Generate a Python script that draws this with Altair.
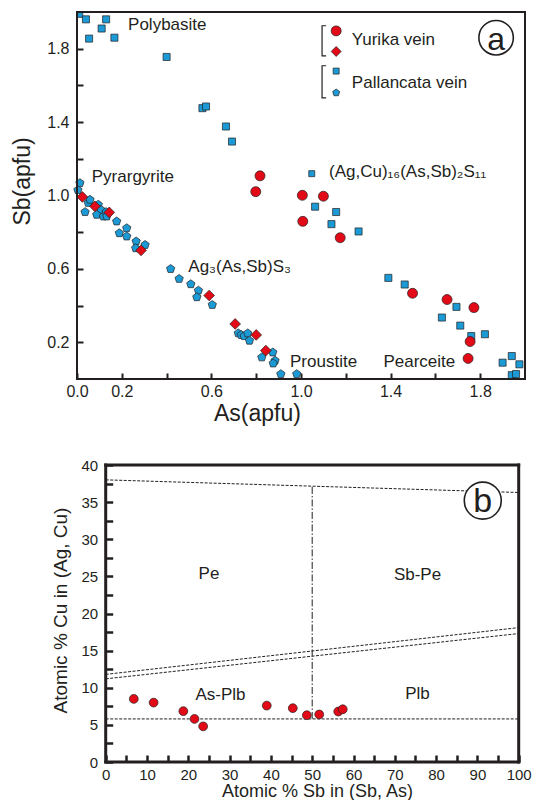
import altair as alt
import pandas as pd

# ---------------- panel (a) data : Sb vs As (apfu) ----------------
yurika_circle_x = [0.817, 0.798, 1.006, 1.100, 1.008, 1.175, 1.498, 1.652, 1.772, 1.755, 1.746]
yurika_circle_y = [1.107, 1.021, 1.001, 0.996, 0.859, 0.770, 0.467, 0.433, 0.389, 0.204, 0.112]
yurika_diamond_x = [0.024, 0.080, 0.144, 0.286, 0.590, 0.706, 0.800, 0.843]
yurika_diamond_y = [0.992, 0.941, 0.908, 0.701, 0.455, 0.300, 0.240, 0.155]
pallancata_square_x = [0.010, 0.040, 0.130, 0.110, 0.054, 0.167, 0.400, 0.560, 0.576, 0.665, 0.692,
                       1.063, 1.157, 1.136, 1.257, 1.390, 1.463, 1.694, 1.629, 1.711, 1.760, 1.821,
                       1.900, 1.941, 1.975, 1.941, 1.960]
pallancata_square_y = [1.990, 1.960, 1.960, 1.910, 1.855, 1.860, 1.755, 1.476, 1.485, 1.376, 1.294,
                       0.939, 0.910, 0.844, 0.804, 0.551, 0.515, 0.393, 0.335, 0.291, 0.234, 0.244,
                       0.089, 0.125, 0.080, 0.021, 0.027]
pallancata_pent_x = [0.013, 0.004, 0.036, 0.050, 0.058, 0.095, 0.107, 0.088, 0.118, 0.130, 0.133, 0.177,
                     0.189, 0.222, 0.222, 0.264, 0.262, 0.304, 0.418, 0.456, 0.508, 0.542, 0.535, 0.604,
                     0.720, 0.733, 0.746, 0.762, 0.770, 0.825, 0.874, 0.884, 0.876, 0.910, 0.981]
pallancata_pent_y = [1.068, 1.030, 0.910, 0.960, 0.977, 0.950, 0.922, 0.895, 0.886, 0.910, 0.886, 0.859,
                     0.795, 0.822, 0.777, 0.750, 0.713, 0.731, 0.600, 0.546, 0.517, 0.482, 0.446, 0.404,
                     0.249, 0.240, 0.234, 0.249, 0.209, 0.118, 0.145, 0.100, 0.085, 0.027, 0.027]

# axis tick positions (unlabelled ones get a blank label)
a_x_ticks = [0.0, 0.2, 0.4, 0.6, 0.8, 1.0, 1.2, 1.4, 1.6, 1.8]
a_y_ticks = [0.2, 0.4, 0.6, 0.8, 1.0, 1.2, 1.4, 1.6, 1.8]
a_unlabelled = [0.4, 0.8, 1.2, 1.6]

a_text = ["Polybasite", "Pyrargyrite", "Ag\u2083(As,Sb)S\u2083",
          "(Ag,Cu)\u2081\u2086(As,Sb)\u2082S\u2081\u2081", "Proustite", "Pearceite"]
a_text_x = [0.228, 0.066, 0.497, 1.125, 0.951, 1.368]
a_text_y = [1.927, 1.101, 0.613, 1.128, 0.094, 0.091]

legend_text = ["Yurika vein", "Pallancata vein"]
legend_text_x = [1.227, 1.227]
legend_text_y = [1.849, 1.612]

# ---------------- panel (b) data : atomic % ----------------
b_sb = [6.8, 11.6, 18.8, 21.5, 23.6, 39.0, 45.3, 48.7, 51.7, 56.3, 57.4]
b_cu = [8.5, 8.0, 6.85, 5.8, 4.8, 7.6, 7.25, 6.3, 6.4, 6.8, 7.1]

b_line_id = ["top", "top", "up1", "up1", "up2", "up2", "low", "low"]
b_line_x = [0, 100, 0, 100, 0, 100, 0, 100]
b_line_y = [38.0, 36.3, 11.8, 18.1, 11.2, 17.3, 5.8, 5.8]
b_vert_x = [50, 50]
b_vert_y = [5.8, 37.15]

b_fields = ["Pe", "Sb-Pe", "As-Plb", "Plb"]
b_fields_x = [25.0, 75.5, 27.8, 75.5]
b_fields_y = [25.3, 25.2, 9.0, 9.1]

b_x_ticks = [0, 5, 10, 15, 20, 25, 30, 35, 40, 45, 50, 55, 60, 65, 70, 75, 80, 85, 90, 95, 100]
b_y_ticks = [0, 2.5, 5, 7.5, 10, 12.5, 15, 17.5, 20, 22.5, 25, 27.5, 30, 32.5, 35, 37.5, 40]

# ---------------- styling ----------------
FONT = "Liberation Sans"
DARK = "#231f20"
RED = "#e30a17"
BLUE = "#1c9ad6"
PENT = "M0,-1L0.951,-0.309L0.588,0.809L-0.588,0.809L-0.951,-0.309Z"

WA, HA = 448, 367
B_LEFT, B_RIGHT = 28.7, 441.7      # pixel range of panel b x scale inside its view
WB, HB = 442, 297

common = dict(domain=False, grid=False, ticks=True, tickColor=DARK,
              labelFont=FONT, labelColor=DARK,
              titleFont=FONT, titleColor=DARK, titleFontWeight="normal",
              labelOverlap=False, labelFlush=False)

blank_a = "indexof(" + str(a_unlabelled) + ", datum.value) >= 0 ? '' : datum.label"

# Each axis is moved onto the opposite frame edge (negative offset) so that its ticks point
# inward; a negative label padding then puts the labels back outside the frame.
TA, TB = 6, 7
xa_axis = alt.Axis(orient="top", offset=-HA, values=a_x_ticks, format=".1f", labelExpr=blank_a,
                   tickSize=TA, tickWidth=2,
                   labelFontSize=16, labelPadding=-(TA + 12), labelBaseline="middle",
                   title="As(apfu)", titleFontSize=23, titleX=180, titleY=34,
                   titleAlign="center", titleBaseline="middle", **common)
ya_axis = alt.Axis(orient="right", offset=-WA, values=a_y_ticks, format=".1f", labelExpr=blank_a,
                   tickSize=TA, tickWidth=2,
                   labelFontSize=16, labelPadding=-(TA + 8), labelAlign="right", labelBaseline="middle",
                   title="Sb(apfu)", titleFontSize=23, titleX=-55, titleY=169, titleAngle=270,
                   titleAlign="center", titleBaseline="middle", **common)
xb_axis = alt.Axis(orient="top", offset=-HB, values=b_x_ticks, format="d",
                   labelExpr="datum.value % 10 === 0 ? datum.label : ''",
                   tickSize=TB, tickWidth=2.5,
                   labelFontSize=15, labelPadding=-(TB + 12), labelBaseline="middle",
                   title="Atomic % Sb in (Sb, As)", titleFontSize=18, titleX=240, titleY=29,
                   titleAlign="center", titleBaseline="middle", **common)
yb_axis = alt.Axis(orient="right", offset=-(WB - B_LEFT), values=b_y_ticks, format="d",
                   labelExpr="datum.value % 5 === 0 ? datum.label : ''",
                   tickSize=TB, tickWidth=2.5,
                   labelFontSize=15, labelPadding=-(TB + 8), labelAlign="right", labelBaseline="middle",
                   title="Atomic % Cu in (Ag, Cu)", titleFontSize=19, titleX=-45, titleY=145,
                   titleAngle=270, titleAlign="center", titleBaseline="middle", **common)


def XA():
    return alt.X("x:Q", scale=alt.Scale(domain=[0, 2], nice=False, zero=False), axis=xa_axis)


def YA():
    return alt.Y("y:Q", scale=alt.Scale(domain=[0, 2], nice=False, zero=False), axis=ya_axis)


def XB():
    return alt.X("x:Q", scale=alt.Scale(domain=[0, 100], range=[B_LEFT, B_RIGHT], nice=False, zero=False),
                 axis=xb_axis)


def YB():
    return alt.Y("y:Q", scale=alt.Scale(domain=[0, 40], nice=False, zero=False), axis=yb_axis)


def pts(xs, ys):
    return pd.DataFrame({"x": xs, "y": ys})


def sym(df, shape, color, size, X, Y, sw=0.7, clip=False):
    return alt.Chart(df).mark_point(shape=shape, filled=True, color=color, stroke=DARK,
                                    strokeWidth=sw, size=size, opacity=1, clip=clip).encode(x=X(), y=Y())


def seg_lines(X, Y, rows, sw, cap="square"):
    recs = []
    for i, (x0, x1, y0, y1) in enumerate(rows):
        recs.append({"x": float(x0), "y": float(y0), "g": i, "o": 0})
        recs.append({"x": float(x1), "y": float(y1), "g": i, "o": 1})
    return alt.Chart(pd.DataFrame(recs)).mark_line(color=DARK, strokeWidth=sw, strokeCap=cap,
                                                   opacity=1).encode(
        x=X(), y=Y(), detail="g:N", order="o:Q")


one = pd.DataFrame({"k": [0]})

# ---- panel a layers ----
a_frame_rows = [(0, 2, 0, 0), (0, 2, 2, 2), (0, 0, 0, 2), (2, 2, 0, 2)]

a_layers = []
a_layers.append(sym(pts(pallancata_square_x, pallancata_square_y), "square", BLUE, 50, XA, YA, clip=True))
a_layers.append(sym(pts(pallancata_pent_x, pallancata_pent_y), PENT, BLUE, 76, XA, YA))
a_layers.append(sym(pts(yurika_diamond_x, yurika_diamond_y), "diamond", RED, 115, XA, YA))
a_layers.append(sym(pts(yurika_circle_x, yurika_circle_y), "circle", RED, 100, XA, YA))
# marker next to the (Ag,Cu)16 label
a_layers.append(sym(pts([1.048], [1.119]), "square", BLUE, 36, XA, YA))
a_layers.append(alt.Chart(pd.DataFrame({"x": a_text_x, "y": a_text_y, "t": a_text}))
                .mark_text(align="left", baseline="middle", font=FONT, fontSize=17, color=DARK)
                .encode(x=XA(), y=YA(), text="t:N"))
# legend
a_layers.append(sym(pts([1.157], [1.897]), "circle", RED, 100, XA, YA))
a_layers.append(sym(pts([1.157], [1.785]), "diamond", RED, 100, XA, YA))
a_layers.append(sym(pts([1.157], [1.678]), "square", BLUE, 36, XA, YA))
a_layers.append(sym(pts([1.157], [1.560]), PENT, BLUE, 55, XA, YA))
a_layers.append(alt.Chart(pd.DataFrame({"x": legend_text_x, "y": legend_text_y, "t": legend_text}))
                .mark_text(align="left", baseline="middle", font=FONT, fontSize=17, color=DARK)
                .encode(x=XA(), y=YA(), text="t:N"))
br = pd.DataFrame({"x": [1.112, 1.094, 1.094, 1.112, 1.112, 1.094, 1.094, 1.112],
                   "y": [1.925, 1.925, 1.761, 1.761, 1.707, 1.707, 1.532, 1.532],
                   "g": ["a"] * 4 + ["b"] * 4, "o": [0, 1, 2, 3, 0, 1, 2, 3]})
a_layers.append(alt.Chart(br).mark_line(color=DARK, strokeWidth=1.2)
                .encode(x=XA(), y=YA(), detail="g:N", order="o:Q"))
a_layers.append(alt.Chart(pts([1.871], [1.86])).mark_point(shape="circle", filled=True, color="white",
                stroke=DARK, strokeWidth=1.6, size=1190, opacity=1).encode(x=XA(), y=YA()))
a_layers.append(alt.Chart(pd.DataFrame({"x": [1.871], "y": [1.86], "t": ["a"]}))
                .mark_text(font=FONT, fontSize=32, color=DARK, align="center", baseline="middle", dy=2)
                .encode(x=XA(), y=YA(), text="t:N"))
a_layers.append(seg_lines(XA, YA, a_frame_rows, 2))
a_layers.append(alt.Chart(one).mark_rule(strokeOpacity=0, strokeWidth=0.1)
                .encode(x=alt.value(-69), y=alt.value(-1), y2=alt.value(HA + 50)))

panel_a = alt.layer(*a_layers).properties(width=WA, height=HA)

# ---- panel b layers ----
b_frame_rows = [(0, 100, 0, 0), (0, 100, 40, 40), (0, 0, 0, 40), (100, 100, 0, 40)]

b_layers = []
b_layers.append(alt.Chart(pd.DataFrame({"x": b_line_x, "y": b_line_y, "id": b_line_id}))
                .mark_line(color=DARK, strokeWidth=1, strokeDash=[3, 1.5])
                .encode(x=XB(), y=YB(), detail="id:N"))
b_layers.append(alt.Chart(pd.DataFrame({"x": b_vert_x, "y": b_vert_y}))
                .mark_line(color=DARK, strokeWidth=1, strokeDash=[7, 2, 1.5, 2])
                .encode(x=XB(), y=YB()))
b_layers.append(sym(pts(b_sb, b_cu), "circle", RED, 78, XB, YB))
b_layers.append(alt.Chart(pd.DataFrame({"x": b_fields_x, "y": b_fields_y, "t": b_fields}))
                .mark_text(align="center", baseline="middle", font=FONT, fontSize=17, color=DARK)
                .encode(x=XB(), y=YB(), text="t:N"))
b_layers.append(alt.Chart(pts([91.3], [35.2])).mark_point(shape="circle", filled=True, color="white",
                stroke=DARK, strokeWidth=1.6, size=1369, opacity=1).encode(x=XB(), y=YB()))
b_layers.append(alt.Chart(pd.DataFrame({"x": [91.3], "y": [35.2], "t": ["b"]}))
                .mark_text(font=FONT, fontSize=34, color=DARK, align="center", baseline="middle", dy=1)
                .encode(x=XB(), y=YB(), text="t:N"))
b_layers.append(seg_lines(XB, YB, b_frame_rows, 3))
b_layers.append(alt.Chart(one).mark_rule(strokeOpacity=0, strokeWidth=0.1)
                .encode(x=alt.value(0), y=alt.value(-20), y2=alt.value(0)))

panel_b = alt.layer(*b_layers).properties(width=WB, height=HB)

chart = alt.concat(panel_a, panel_b, columns=1, spacing=16).properties(
    padding={"left": 0, "top": 0, "right": 0, "bottom": 0}
).configure(background="white").configure_view(stroke=None)

chart.save("out.html", embed_options={"renderer": "svg", "actions": False})
